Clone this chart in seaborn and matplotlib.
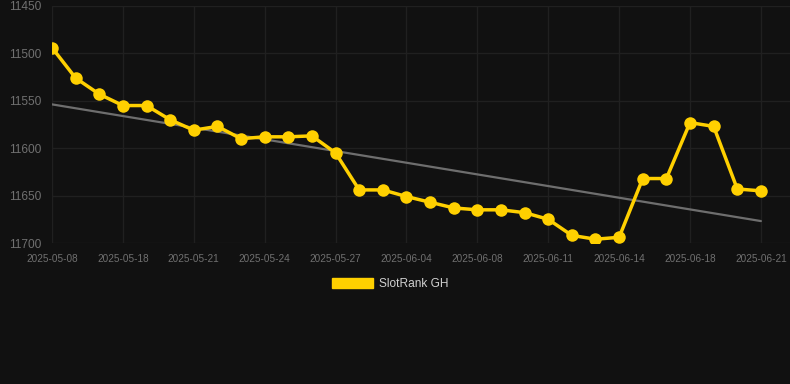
import matplotlib
matplotlib.use("Agg")
import matplotlib.pyplot as plt
import seaborn as sns
import numpy as np
import pandas as pd
from matplotlib.patches import Patch

# ---- data ----
rank_values = [11494, 11526, 11543, 11555, 11555, 11570, 11581, 11577, 11590, 11588,
               11588, 11587, 11605, 11644, 11644, 11651, 11657, 11663, 11665, 11665,
               11668, 11675, 11692, 11696, 11694, 11632, 11632, 11573, 11577, 11643,
               11645]
tick_labels = ["2025-05-08", "2025-05-18", "2025-05-21", "2025-05-24", "2025-05-27",
               "2025-06-04", "2025-06-08", "2025-06-11", "2025-06-14", "2025-06-18",
               "2025-06-21"]
y_ticks = [11450, 11500, 11550, 11600, 11650, 11700]
series_name = "SlotRank GH"

BG = "#111111"
GRID = "#202020"
YELLOW = "#FFD000"
TICK = "#707070"

sns.set_theme(style="dark")
plt.rcParams["font.family"] = ["Liberation Sans", "DejaVu Sans"]

df = pd.DataFrame({"idx": np.arange(len(rank_values)), "rank": rank_values})

fig = plt.figure(figsize=(7.9, 3.84), dpi=100, facecolor=BG)
ax = fig.add_axes([52 / 790, 1 - 243 / 384, (790 - 52) / 790, (243 - 6) / 384])
ax.set_facecolor(BG)

# trend line (least squares)
coef = np.polyfit(df["idx"], df["rank"], 1)
trend = np.polyval(coef, df["idx"])
sns.lineplot(x=df["idx"], y=trend, ax=ax, color="#6e6e6e", linewidth=1.6, zorder=2)

sns.lineplot(data=df, x="idx", y="rank", ax=ax, color=YELLOW, linewidth=2.5,
             marker="o", markersize=9, markeredgewidth=0, zorder=3)

n = len(rank_values)
step = 23.63
ax.set_xlim(0, (790 - 52) / step)
ax.set_ylim(11700, 11450)
ax.set_yticks(y_ticks)
ax.set_yticklabels([str(v) for v in y_ticks])
ax.set_xticks(np.arange(0, n, 3))
ax.set_xticklabels(tick_labels)

ax.grid(True, color=GRID, linewidth=1)
ax.tick_params(axis="y", colors=TICK, labelsize=8.6, length=0, pad=8)
ax.tick_params(axis="x", colors=TICK, labelsize=7.2, length=0, pad=8)
for s in ax.spines.values():
    s.set_visible(False)
ax.set_xlabel("")
ax.set_ylabel("")
if ax.get_legend():
    ax.get_legend().remove()

handle = Patch(facecolor=YELLOW, edgecolor=YELLOW, label=series_name)
leg = fig.legend(handles=[handle], loc="center", bbox_to_anchor=(390 / 790, 1 - 284 / 384),
                 frameon=False, fontsize=8.6, handlelength=3.4, handleheight=0.9,
                 handletextpad=0.5, labelcolor="#d0d0d0")

fig.savefig("out.png", dpi=100, facecolor=BG)
